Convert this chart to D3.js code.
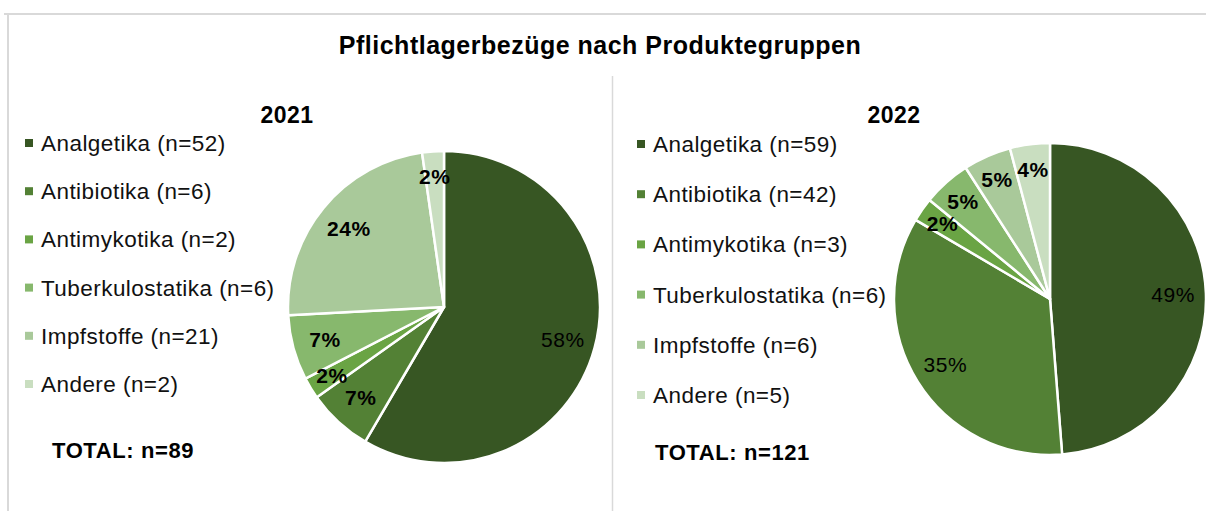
<!DOCTYPE html>
<html>
<head>
<meta charset="utf-8">
<script src="https://cdn.jsdelivr.net/npm/d3@7"></script>
<style>
  body { margin: 0; background: #fff; }
  svg { display: block; font-family: "Liberation Sans", Arial, sans-serif; }
</style>
</head>
<body>
<svg id="chart"></svg>
<script>
// data
const categories = ["Analgetika", "Antibiotika", "Antimykotika", "Tuberkulostatika", "Impfstoffe", "Andere"];
const values2021 = [52, 6, 2, 6, 21, 2];
const values2022 = [59, 42, 3, 6, 6, 5];
const colors = ["#375623", "#538135", "#6aa444", "#87b86d", "#a9c99a", "#c9dec0"];
const title = "Pflichtlagerbezüge nach Produktegruppen";

const width = 1206, height = 511;
const svg = d3.select("#chart").attr("width", width).attr("height", height);

// frame + divider
svg.append("line").attr("x1", 4).attr("x2", width).attr("y1", 14).attr("y2", 14)
    .attr("stroke", "#d9d9d9").attr("stroke-width", 2);
svg.append("line").attr("x1", 8).attr("x2", 8).attr("y1", 14).attr("y2", height)
    .attr("stroke", "#d9d9d9").attr("stroke-width", 2);
svg.append("line").attr("x1", 612.5).attr("x2", 612.5).attr("y1", 76).attr("y2", height)
    .attr("stroke", "#d9d9d9").attr("stroke-width", 1.5);

// title
svg.append("text")
    .attr("x", 600).attr("y", 54)
    .attr("text-anchor", "middle")
    .attr("font-size", "25px").attr("font-weight", "bold")
    .attr("letter-spacing", "0.5px")
    .text(title);

const color = d3.scaleOrdinal().domain(categories).range(colors);

function makePie(values, opts) {
    const g = svg.append("g");
    const total = d3.sum(values);
    const rows = categories.map((c, i) => ({ cat: c, value: values[i] }));

    // year label
    g.append("text")
        .attr("x", opts.yearX).attr("y", 123)
        .attr("text-anchor", "middle")
        .attr("font-size", "23px").attr("font-weight", "bold")
        .attr("letter-spacing", "0.5px")
        .text(opts.year);

    // legend
    const legendY = d3.scalePoint().domain(categories).range([opts.legendTop, opts.legendBottom]);
    const leg = g.append("g").selectAll("g").data(rows).join("g")
        .attr("transform", d => `translate(${opts.legendX},${legendY(d.cat)})`);
    leg.append("rect")
        .attr("x", 0).attr("y", -12).attr("width", 8).attr("height", 8)
        .attr("fill", d => color(d.cat));
    leg.append("text")
        .attr("x", 16).attr("y", 0)
        .attr("font-size", "22.5px")
        .attr("letter-spacing", "0.45px")
        .attr("fill", "#111")
        .text(d => `${d.cat} (n=${d.value})`);

    // total
    g.append("text")
        .attr("x", opts.totalX).attr("y", opts.totalY)
        .attr("font-size", "22px").attr("font-weight", "bold")
        .attr("letter-spacing", "0.6px")
        .text(`TOTAL: n=${total}`);

    // pie
    const pie = d3.pie().sort(null).value(d => d.value);
    const arcs = pie(rows);
    const r = opts.radius;
    const arc = d3.arc().innerRadius(0).outerRadius(r);
    const pg = g.append("g").attr("transform", `translate(${opts.cx},${opts.cy})`);
    pg.selectAll("path").data(arcs).join("path")
        .attr("d", arc)
        .attr("fill", d => color(d.data.cat))
        .attr("stroke", "#fff").attr("stroke-width", 2.5)
        .attr("stroke-linejoin", "round");

    const fmt = d3.format(".0%");
    pg.selectAll("text").data(arcs).join("text")
        .attr("transform", d => {
            const share = d.data.value / total;
            const lr = share < 0.06 ? r * 0.84 : r * 0.79;
            const [x, y] = d3.arc().innerRadius(lr).outerRadius(lr).centroid(d);
            return `translate(${x},${y})`;
        })
        .attr("text-anchor", "middle")
        .attr("dy", "0.36em")
        .attr("font-size", "21px")
        .attr("letter-spacing", "0.6px")
        .attr("font-weight", d => d.data.value / total >= 0.3 ? "normal" : "bold")
        .attr("fill", "#000")
        .text(d => fmt(d.data.value / total));
}

makePie(values2021, {
    year: "2021", yearX: 287,
    legendX: 25, legendTop: 151, legendBottom: 392,
    totalX: 52, totalY: 458,
    cx: 444, cy: 307, radius: 156
});

makePie(values2022, {
    year: "2022", yearX: 894,
    legendX: 637, legendTop: 152, legendBottom: 403,
    totalX: 655, totalY: 460,
    cx: 1050, cy: 299, radius: 156
});
</script>
</body>
</html>
